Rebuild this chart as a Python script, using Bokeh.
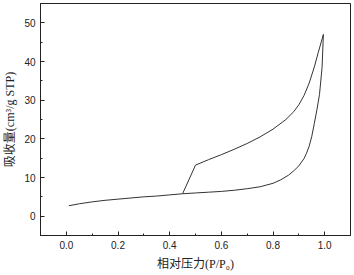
from bokeh.plotting import figure
from bokeh.models import Range1d, SingleIntervalTicker, PrintfTickFormatter
from bokeh.embed import file_html
from bokeh.resources import INLINE

# Adsorption branch
ads_x = [0.01, 0.05, 0.1, 0.15, 0.2, 0.25, 0.3, 0.35, 0.4, 0.45, 0.5, 0.55, 0.6,
         0.65, 0.7, 0.75, 0.8, 0.83, 0.86, 0.88, 0.9, 0.92, 0.93, 0.94, 0.95,
         0.96, 0.97, 0.98, 0.99, 0.995]
ads_y = [2.7, 3.2, 3.7, 4.1, 4.4, 4.7, 5.0, 5.2, 5.5, 5.8, 6.0, 6.2, 6.4,
         6.7, 7.1, 7.6, 8.5, 9.4, 10.6, 11.7, 13.0, 14.9, 16.3, 18.1, 20.6,
         24.0, 27.5, 31.5, 38.5, 47.0]

# Desorption branch
des_x = [0.995, 0.975, 0.96, 0.94, 0.92, 0.9, 0.88, 0.85, 0.8, 0.75, 0.7, 0.65,
         0.6, 0.55, 0.5, 0.45]
des_y = [47.0, 42.3, 38.6, 34.4, 31.2, 28.8, 27.0, 25.0, 22.5, 20.5, 18.8, 17.3,
         15.9, 14.6, 13.2, 5.8]

x_label = "相对压力(P/P₀)"
y_label = "吸收量(cm³/g STP)"

p = figure(width=354, height=275, output_backend="svg", toolbar_location=None,
           x_range=Range1d(-0.1, 1.1), y_range=Range1d(-5, 55),
           min_border_left=38, min_border_right=4, min_border_top=3, min_border_bottom=40)
p.background_fill_color = "white"
p.border_fill_color = "white"
p.outline_line_color = "#222222"
p.outline_line_width = 1
p.xgrid.visible = False
p.ygrid.visible = False

p.line(ads_x, ads_y, line_color="#333333", line_width=1)
p.line(des_x, des_y, line_color="#333333", line_width=1)

serif = "Liberation Serif, Noto Sans CJK SC, serif"
for ax in (p.xaxis[0], p.yaxis[0]):
    ax.axis_line_color = "#222222"
    ax.major_tick_line_color = "#222222"
    ax.minor_tick_line_color = "#222222"
    ax.major_tick_in = 4
    ax.major_tick_out = 0
    ax.minor_tick_in = 2
    ax.minor_tick_out = 0
    ax.major_label_text_font = "Liberation Sans"
    ax.major_label_text_font_size = "10px"
    ax.major_label_text_color = "#222222"
    ax.axis_label_text_font = serif
    ax.axis_label_text_font_size = "12px"
    ax.axis_label_text_font_style = "normal"
    ax.axis_label_text_color = "#222222"

p.xaxis[0].ticker = SingleIntervalTicker(interval=0.2, num_minor_ticks=2)
p.xaxis[0].formatter = PrintfTickFormatter(format="%.1f")
p.xaxis[0].major_label_standoff = 5
p.xaxis[0].axis_label = x_label
p.xaxis[0].axis_label_standoff = 5

p.yaxis[0].ticker = SingleIntervalTicker(interval=10, num_minor_ticks=2)
p.yaxis[0].formatter = PrintfTickFormatter(format="%d")
p.yaxis[0].major_label_standoff = 5
p.yaxis[0].axis_label = y_label
p.yaxis[0].axis_label_standoff = 4

open("out.html", "w").write(file_html(p, INLINE))
